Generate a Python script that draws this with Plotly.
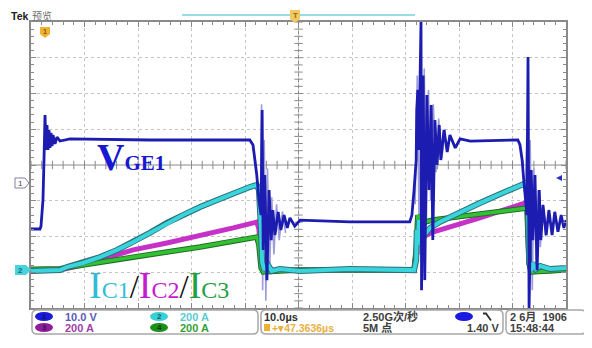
import plotly.graph_objects as go
import numpy as np

# ---------------- data (time in µs, VGE in V, currents in A) ----------------
vge_t = [0, 1.68, 1.87, 2.24, 2.43, 2.62, 2.80, 2.99, 3.18, 3.36, 3.55, 3.74, 3.93, 4.11, 4.49, 4.86, 5.42, 7.29, 22.2, 40.9,
         41.5, 41.9, 42.2, 42.6, 43.0, 43.2, 43.4, 43.7, 44.1, 44.5, 44.9, 45.2, 45.6, 46.2, 46.7, 47.3, 47.9, 48.4, 49.3, 50.3,
         59.6, 70.8, 71.2, 71.6, 72.0, 72.1, 72.3, 72.5, 72.7, 72.9, 73.0, 73.3, 73.6, 74.0, 74.4, 74.8, 75.1, 75.5, 75.9, 76.3,
         76.6, 77.2, 77.8, 78.3, 79.3, 80.2, 82.1, 91.0, 91.4, 91.8, 92.1, 92.5, 92.7, 92.9, 93.1, 93.5, 93.8, 94.2, 94.6, 95.0,
         95.3, 95.7, 96.3, 96.8, 97.4, 97.9, 98.5, 99.1, 99.6, 100]
vge_v = [-12.9, -12.9, -12.1, -4.8, 6.4, 19.0, 9.2, 16.2, 9.2, 14.8, 9.8, 14.0, 10.3, 13.4, 10.9, 12.8, 11.7, 12.3, 12.0, 12.0,
         10.6, 6.4, 2.2, -4.8, -9.0, 20.4, -18.8, 2.2, -27.2, -2.0, -16.0, -7.6, -14.6, -8.1, -13.2, -9.0, -12.6, -9.8, -12.1, -10.4,
         -10.9, -10.9, -9.0, -2.0, 6.4, 20.4, 26.0, 9.2, 34.4, 45.0, -30.0, 30.0, -27.2, 24.6, -2.0, 21.8, -16.0, 17.6, 5.0, 16.2,
         6.4, 14.8, 8.6, 13.4, 9.8, 12.3, 11.7, 12.0, 10.6, 6.4, 0.8, -4.8, -9.0, 35.2, -35.0, 3.6, -16.0, 2.2, -24.4, -2.0,
         -16.0, -6.2, -14.6, -7.6, -14.6, -8.1, -13.7, -9.0, -12.6, -10.4]

# persistence (lighter) ringing of VGE1
vgp_t = [42.9, 43.1, 43.3, 43.6, 43.9, 44.2, 44.6, 45.0, 45.4, 45.9, 46.4, 47.0, 47.6, None,
         71.8, 72.2, 72.6, 72.9, 73.2, 73.5, 73.9, 74.3, 74.7, 75.2, 75.7, 76.2, 76.8, 77.4, None,
         92.4, 92.7, 93.0, 93.3, 93.7, 94.0, 94.4, 94.8, 95.2, 95.7, 96.2]
vgp_v = [-5, 22, -30, 12, -33, 4, -25, -4, -20, -6, -16, -8, -14, None,
         -6, 30, -20, 38, -25, 32, -12, 26, -5, 22, 3, 18, 7, 15, None,
         -2, 15, -25, 12, -30, 4, -22, -2, -18, -6, -15]

ic1_t = [0, 5.42, 6.7, 9.7, 12.9, 16.1, 19.1, 22.2, 25.4, 28.4, 31.6, 34.8, 37.8, 40.9, 42.2, 42.6, 43.0, 43.2, 43.6, 44.3,
         45.0, 46.5, 50.3, 59.6, 71.6, 72.0, 72.1, 72.3, 72.5, 72.9, 73.5, 74.6, 76.4, 80.2, 83.9, 87.7, 91.4, 92.5, 92.9, 93.1,
         93.5, 93.8, 94.4, 95.2, 97.0, 100]
ic1_a = [-5, 0, 17, 40, 73, 113, 157, 208, 264, 308, 353, 392, 431, 465, 476, 448, 224, 45, 0, 29,
         -5, 6, -5, 6, 0, 57, 224, 140, 280, 168, 196, 236, 269, 325, 375, 426, 471, 487, 392, 45,
         -5, 40, 6, 23, 6, 12]

ic2_t = [0, 5.42, 9.7, 12.9, 19.1, 25.4, 31.6, 37.8, 42.2, 42.6, 43.0, 43.4, 50.0, 71.6, 72.0, 72.3, 72.9, 73.6, 75.1, 83.9,
         92.3, 92.7, 93.1, 93.5, 100]
ic2_a = [-5, 0, 30, 60, 113, 152, 191, 236, 269, 230, 40, -5, 0, 0, 113, 213, 168, 191, 213, 292,
         375, 364, 29, -10, 0]

ic3_t = [0, 5.42, 9.7, 12.9, 19.1, 25.4, 31.6, 37.8, 42.2, 42.6, 43.0, 43.4, 50.0, 71.6, 72.0, 72.3, 72.9, 73.6, 75.1, 83.9,
         92.7, 93.1, 93.5, 100]
ic3_a = [5, 8, 29, 45, 73, 101, 129, 163, 185, 140, 12, -10, 0, 0, 113, 308, 252, 269, 280, 314,
         347, 40, -10, 0]

# channel settings (scale per division, position in divisions)
ch1_scale, ch1_pos = 10.0, -0.5
ci_scale, ci_pos = 200.0, -2.94

# ---------------- geometry helpers ----------------
# the page body has an 8px margin, so the figure is sized to fit the 592x348 window
OFF = 8
W, H = 592 - OFF, 348 - OFF
PL, PR, PT, PB = 31, 566, 22, 308       # plot-area edges in window pixels
L, R, T, B = PL - OFF, W + OFF - PR, PT - OFF, H + OFF - PB
PW, PH = PR - PL, PB - PT


def px(x):
    return (x - PL) / PW


def py(y):
    return (PB - y) / PH


def scale(vals, s, p):
    return [None if v is None else v / s + p for v in vals]


NAVY = "#1c1cb0"
LAV = "#9c9cdc"
CYAN = "#3ad4dc"
CYAN_D = "#2a7078"
MAG = "#c632c8"
GRN = "#34c034"
GRN_D = "#1f6f22"

fig = go.Figure()

# graticule crosshair ticks
tx = np.arange(0, 100.01, 2)
ty = np.arange(-4, 4.01, 0.2)
fig.add_trace(go.Scatter(x=tx, y=[0] * len(tx), mode="markers", hoverinfo="skip",
                         marker=dict(symbol="line-ns-open", size=6, color="#8a8a8a", line=dict(width=1, color="#8a8a8a"))))
fig.add_trace(go.Scatter(x=[50] * len(ty), y=ty, mode="markers", hoverinfo="skip",
                         marker=dict(symbol="line-ew-open", size=6, color="#8a8a8a", line=dict(width=1, color="#8a8a8a"))))

# waveforms
fig.add_trace(go.Scatter(x=vgp_t, y=scale(vgp_v, ch1_scale, ch1_pos), mode="lines",
                         line=dict(color=LAV, width=1.6), connectgaps=False))
fig.add_trace(go.Scatter(x=ic2_t, y=scale(ic2_a, ci_scale, ci_pos), mode="lines", line=dict(color=MAG, width=5)))
fig.add_trace(go.Scatter(x=ic3_t, y=scale(ic3_a, ci_scale, ci_pos), mode="lines", line=dict(color=GRN_D, width=5.5)))
fig.add_trace(go.Scatter(x=ic3_t, y=scale(ic3_a, ci_scale, ci_pos), mode="lines", line=dict(color=GRN, width=3.5)))
fig.add_trace(go.Scatter(x=ic1_t, y=scale(ic1_a, ci_scale, ci_pos), mode="lines", line=dict(color=CYAN_D, width=6)))
fig.add_trace(go.Scatter(x=ic1_t, y=scale(ic1_a, ci_scale, ci_pos), mode="lines", line=dict(color=CYAN, width=4)))
fig.add_trace(go.Scatter(x=vge_t, y=scale(vge_v, ch1_scale, ch1_pos), mode="lines", line=dict(color=NAVY, width=2.8)))

shapes = []
ann = []

# crosshair lines
shapes.append(dict(type="line", xref="x", yref="y", x0=50, x1=50, y0=-4, y1=4, line=dict(color="#8a8a8a", width=1), layer="below"))
shapes.append(dict(type="line", xref="x", yref="y", x0=0, x1=100, y0=0, y1=0, line=dict(color="#8a8a8a", width=1), layer="below"))


def rrect(x0, y0, x1, y1, r, color="#a8a8a8", fill="rgba(0,0,0,0)", w=1.5):
    pts = lambda x, y: f"{px(x):.5f},{py(y):.5f}"
    path = (f"M {pts(x0 + r, y0)} L {pts(x1 - r, y0)} Q {pts(x1, y0)} {pts(x1, y0 + r)} "
            f"L {pts(x1, y1 - r)} Q {pts(x1, y1)} {pts(x1 - r, y1)} L {pts(x0 + r, y1)} "
            f"Q {pts(x0, y1)} {pts(x0, y1 - r)} L {pts(x0, y0 + r)} Q {pts(x0, y0)} {pts(x0 + r, y0)} Z")
    shapes.append(dict(type="path", xref="paper", yref="paper", path=path,
                       line=dict(color=color, width=w), fillcolor=fill))


def oval(x0, y0, x1, y1, fill):
    shapes.append(dict(type="circle", xref="paper", yref="paper", x0=px(x0), x1=px(x1), y0=py(y1), y1=py(y0),
                       fillcolor=fill, line=dict(width=0)))


def txt(x, y, s, color, size, xanchor="left", family="Liberation Sans", yanchor="middle"):
    ann.append(dict(x=px(x), y=py(y), xref="paper", yref="paper", text=s, showarrow=False,
                    xanchor=xanchor, yanchor=yanchor, font=dict(color=color, size=size, family=family),
                    borderpad=0))


def poly(points, fill, color=None, w=0):
    path = "M " + " L ".join(f"{px(a):.5f},{py(b):.5f}" for a, b in points) + " Z"
    shapes.append(dict(type="path", xref="paper", yref="paper", path=path, fillcolor=fill,
                       line=dict(color=color or fill, width=w)))


# status bar boxes
rrect(32, 310, 258, 334, 5)
rrect(261, 310, 503, 334, 5)
rrect(506, 310, 586, 334, 5)

oval(35, 312, 53, 321, "#1a1ad8")
oval(35, 323, 53, 332, "#8e1e9e")
oval(150, 312, 168, 321, "#3ad0d8")
oval(150, 323, 168, 332, "#1a901a")
oval(455, 312, 473, 321, "#1a1ae0")
txt(44, 316.5, "<b>1</b>", "#10106a", 8, xanchor="center")
txt(44, 327.5, "<b>3</b>", "#40104a", 8, xanchor="center")
txt(159, 316.5, "<b>2</b>", "#105a60", 8, xanchor="center")
txt(159, 327.5, "<b>4</b>", "#0a3a0a", 8, xanchor="center")

txt(64, 316.5, "<b>10.0 V</b>", "#5a5ab8", 11)
txt(64, 327.5, "<b>200 A</b>", "#a040a8", 11)
txt(179, 316.5, "<b>200 A</b>", "#5ccbd2", 11)
txt(179, 327.5, "<b>200 A</b>", "#35a235", 11)

txt(263, 316.5, "<b>10.0µs</b>", "#303030", 11)
shapes.append(dict(type="rect", xref="paper", yref="paper", x0=px(264), x1=px(270), y0=py(331), y1=py(324),
                   fillcolor="#f0b030", line=dict(width=0)))
txt(271, 327.5, "<b>+▾47.3636µs</b>", "#e8b040", 10.5)
txt(362, 316.5, "<b>2.50G次/秒</b>", "#404040", 11, family="Liberation Sans, Noto Sans CJK SC")
txt(362, 327.5, "<b>5M 点</b>", "#404040", 11, family="Liberation Sans, Noto Sans CJK SC")
txt(500, 327.5, "<b>1.40 V</b>", "#404040", 11, xanchor="right")
shapes.append(dict(type="path", xref="paper", yref="paper",
                   path=f"M {px(483):.5f},{py(313.5):.5f} L {px(486):.5f},{py(313.5):.5f} L {px(491):.5f},{py(320.5):.5f}",
                   line=dict(color="#303030", width=1.8)))
txt(509, 316.5, "<b>2 6月  1906</b>", "#404040", 11, family="Liberation Sans, Noto Sans CJK SC")
txt(509, 327.5, "<b>15:48:44</b>", "#404040", 11)

# top-left label and record bar
txt(10, 15.5, "<b>Tek</b>", "#202020", 10.5)
txt(31, 15.5, "预览", "#707070", 10, family="Noto Sans CJK SC")
shapes.append(dict(type="line", xref="paper", yref="paper", x0=px(182), x1=px(415), y0=py(15), y1=py(15),
                   line=dict(color="#98dce4", width=2)))
poly([(290, 10), (300, 10), (300, 19), (295, 23), (290, 19)], "#f2c860")
txt(295, 16, "<b>T</b>", "#9a6a10", 8, xanchor="center")
poly([(40, 27), (50, 27), (50, 34), (45, 38), (40, 34)], "#f0b030")
txt(45, 31.5, "<b>1</b>", "#8a5a10", 7, xanchor="center")

# left / right channel markers
poly([(15, 178), (25, 178), (29, 183), (25, 188), (15, 188)], "#ffffff", "#8080a0", 1)
txt(20, 183, "1", "#404060", 8, xanchor="center")
poly([(15, 265), (26, 265), (31, 270), (26, 275), (15, 275)], "#48d4dc")
txt(20.5, 270, "<b>2</b>", "#1a6a70", 8, xanchor="center")
poly([(556, 178), (562, 175), (562, 181)], "#3030c0")

# in-plot labels
ann.append(dict(x=px(96), y=py(179), xref="paper", yref="paper", showarrow=False, xanchor="left", yanchor="bottom",
                text="<b><span style='font-size:38px'>V</span><span style='font-size:21px'>GE1</span></b>",
                font=dict(color="#1818d0", family="Liberation Serif", size=21), borderpad=0))
ann.append(dict(x=px(88), y=py(307), xref="paper", yref="paper", showarrow=False, xanchor="left", yanchor="bottom",
                text=("<span style='font-size:38px;color:#32bcd8'>I</span><span style='font-size:24px;color:#32bcd8'>C1</span>"
                      "<span style='font-size:33px;color:#101010'>/</span>"
                      "<span style='font-size:38px;color:#c41cd0'>I</span><span style='font-size:24px;color:#c41cd0'>C2</span>"
                      "<span style='font-size:33px;color:#101010'>/</span>"
                      "<span style='font-size:38px;color:#22a044'>I</span><span style='font-size:24px;color:#22a044'>C3</span>"),
                font=dict(family="Liberation Serif", size=24), borderpad=0))

fig.update_layout(
    width=W, height=H, margin=dict(l=L, r=R, t=T, b=B),
    paper_bgcolor="white", plot_bgcolor="white", showlegend=False,
    shapes=shapes, annotations=ann,
    xaxis=dict(range=[0, 100], dtick=10, showgrid=True, gridcolor="#c4c4c4", griddash="dot", gridwidth=1,
               zeroline=False, showticklabels=False, ticks="inside", ticklen=5, tickcolor="#8a8a8a",
               showline=True, linecolor="#8a8a8a", linewidth=1.5, mirror="ticks",
               minor=dict(dtick=2, ticks="inside", ticklen=3, tickcolor="#8a8a8a", showgrid=False)),
    yaxis=dict(range=[-4, 4], dtick=1, showgrid=True, gridcolor="#c4c4c4", griddash="dot", gridwidth=1,
               zeroline=False, showticklabels=False, ticks="inside", ticklen=5, tickcolor="#8a8a8a",
               showline=True, linecolor="#8a8a8a", linewidth=1.5, mirror="ticks",
               minor=dict(dtick=0.2, ticks="inside", ticklen=3, tickcolor="#8a8a8a", showgrid=False)),
)

fig.write_html("out.html")
